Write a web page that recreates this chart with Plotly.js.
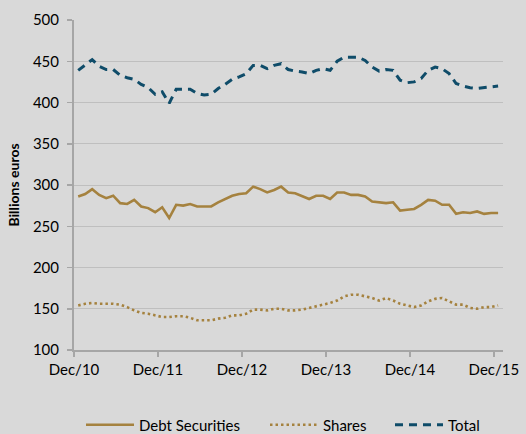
<!DOCTYPE html>
<html>
<head>
<meta charset="utf-8">
<script src="https://cdn.plot.ly/plotly-3.0.1.min.js"></script>
<style>html,body{margin:0;padding:0;background:#d9d9d9;}#chart{width:526px;height:434px;}</style>
</head>
<body>
<div id="chart"></div>
<script>
// Monthly observations, Dec/10 .. Dec/15 (61 months)
const tickLabels = ["Dec/10", "Dec/11", "Dec/12", "Dec/13", "Dec/14", "Dec/15"];
const debtSecurities = [286, 289, 295, 288, 284, 287, 278, 277, 282, 274, 272, 267, 273, 260, 276, 275, 277, 274, 274, 274,
  279, 283, 287, 289, 290, 298, 295, 291, 294, 298, 291, 290, 286, 283, 287, 287, 283, 291, 291, 288,
  288, 286, 280, 279, 278, 279, 269, 270, 271, 276, 282, 281, 276, 276, 265, 267, 266, 268, 265, 266, 266];
const shares = [154, 156, 157, 156, 156, 156, 155, 152, 148, 145, 144, 142, 140, 140, 141, 141, 139, 136, 136, 136,
  138, 139, 142, 142, 144, 149, 149, 148, 150, 150, 148, 148, 149, 151, 153, 155, 157, 160, 165, 167,
  167, 165, 163, 160, 163, 160, 156, 154, 152, 154, 159, 162, 163, 159, 155, 155, 151, 150, 152, 152, 154];
const total = [439, 445, 452, 444, 440, 440, 433, 430, 428, 422, 418, 410, 413, 399, 416, 416, 416, 411, 409, 410,
  417, 422, 428, 431, 435, 445, 445, 441, 445, 447, 440, 438, 437, 435, 439, 441, 439, 450, 455, 455,
  455, 451, 443, 438, 440, 439, 427, 424, 425, 429, 439, 443, 441, 435, 423, 420, 418, 417, 418, 419, 420];

const months = debtSecurities.map((_, i) => i);
const tickVals = tickLabels.map((_, k) => 12 * k - 0.6);

const gold = "#a5823f";
const teal = "#0f4c69";

const traces = [
  {x: months, y: debtSecurities, name: "Debt Securities", type: "scatter", mode: "lines",
   line: {color: gold, width: 2.6}, legend: "legend"},
  {x: months, y: shares, name: "Shares", type: "scatter", mode: "lines",
   line: {color: gold, width: 2.6, dash: "2.5px,3px"}, legend: "legend2"},
  {x: months, y: total, name: "Total", type: "scatter", mode: "lines",
   line: {color: teal, width: 3, dash: "8px,6px"}, legend: "legend3"}
];

const fam = "Lato, 'Liberation Sans', sans-serif";
const font = {family: fam, size: 15, color: "#000"};

function leg(px) {
  return {orientation: "h", xref: "container", yref: "container", x: px / 526, xanchor: "left",
          y: 9 / 434, yanchor: "middle", font: font, itemwidth: 48, bgcolor: "rgba(0,0,0,0)"};
}

const layout = {
  width: 526, height: 434,
  paper_bgcolor: "#d9d9d9", plot_bgcolor: "#d9d9d9",
  margin: {l: 74, r: 23, t: 20, b: 84, autoexpand: false},
  font: font,
  showlegend: true,
  legend: leg(81), legend2: leg(265), legend3: leg(390),
  xaxis: {
    range: [-0.6, 60.7], tickmode: "array", tickvals: tickVals, ticktext: tickLabels,
    showgrid: false, zeroline: false, showline: true, linecolor: "#a6a6a6", linewidth: 1.5,
    ticks: "outside", ticklen: 5, tickcolor: "#a6a6a6", tickwidth: 1.5,
    tickfont: font, fixedrange: true
  },
  yaxis: {
    range: [100, 500], dtick: 50, tick0: 100,
    showgrid: true, gridcolor: "#bfbfbf", gridwidth: 1, zeroline: false,
    showline: true, linecolor: "#a6a6a6", linewidth: 2,
    ticks: "outside", ticklen: 5, tickcolor: "#a6a6a6", tickwidth: 1.5,
    tickfont: font, ticklabelstandoff: 5,
    title: {text: "<b>Billions euros</b>", font: {family: fam, size: 14, color: "#000"}, standoff: 10},
    fixedrange: true
  }
};

Plotly.newPlot("chart", traces, layout, {displayModeBar: false, staticPlot: true});
</script>
</body>
</html>
